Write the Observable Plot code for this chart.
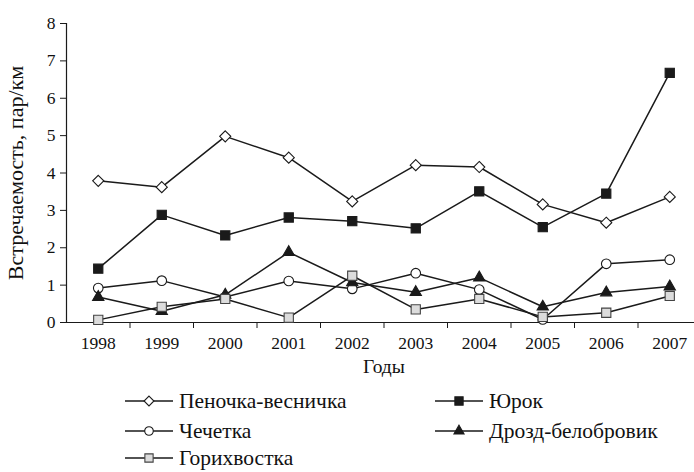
<!DOCTYPE html>
<html>
<head>
<meta charset="utf-8">
<script src="https://cdn.jsdelivr.net/npm/d3@7"></script>
<script src="https://cdn.jsdelivr.net/npm/@observablehq/plot@0.6"></script>
<style>
  html, body { margin: 0; padding: 0; background: #fff; }
  #wrap { position: relative; width: 694px; height: 472px; overflow: hidden; font-family: 'Liberation Serif', serif; }
  #wrap svg text { font-family: 'Liberation Serif', serif; }
  #legend { position: absolute; left: 0; top: 0; width: 694px; height: 472px; pointer-events: none; }
  .item { position: absolute; display: flex; align-items: center; font-size: 21.5px; line-height: 22px; color: #111; white-space: nowrap; font-family: 'Liberation Serif', serif; }
  .item svg { margin-right: 6px; }
</style>
</head>
<body>
<div id="wrap"></div>
<script>
// ---- data ----
const years = [1998, 1999, 2000, 2001, 2002, 2003, 2004, 2005, 2006, 2007];
const species = ["Пеночка-весничка", "Юрок", "Чечетка", "Дрозд-белобровик", "Горихвостка"];
const penochka   = [3.79, 3.62, 4.98, 4.41, 3.24, 4.21, 4.16, 3.16, 2.67, 3.36];
const yurok      = [1.44, 2.88, 2.33, 2.81, 2.71, 2.52, 3.51, 2.55, 3.45, 6.68];
const chechetka  = [0.92, 1.12, 0.68, 1.11, 0.90, 1.32, 0.88, 0.08, 1.57, 1.68];
const drozd      = [0.68, 0.30, 0.74, 1.88, 1.07, 0.81, 1.20, 0.42, 0.80, 0.96];
const gorihvostka= [0.07, 0.42, 0.63, 0.13, 1.25, 0.35, 0.63, 0.15, 0.26, 0.71];
const yTicks = [0, 1, 2, 3, 4, 5, 6, 7, 8];
const xLabel = "Годы";
const yLabel = "Встречаемость, пар/км";

// styles per series
const seriesValues = [penochka, yurok, chechetka, drozd, gorihvostka];
const symbols = ["diamond2", "square", "circle", "triangle", "square"];
const fills   = ["#ffffff", "#1a1a1a", "#ffffff", "#1a1a1a", "#dcdcdc"];
const strokes = ["#1a1a1a", "#1a1a1a", "#1a1a1a", "#1a1a1a", "#444444"];
const radii   = [5.0, 5.2, 4.8, 4.2, 5.2];

const table = [];
species.forEach((s, i) => years.forEach((y, j) => table.push({species: s, year: y, value: seriesValues[i][j]})));

const boundaries = years.slice(1).map(y => y - 0.5);

const marks = [
  Plot.axisY({ticks: yTicks, tickSize: 6, tickPadding: 5, label: yLabel, labelAnchor: "center", labelOffset: 59, labelArrow: "none", stroke: "#1a1a1a"}),
  Plot.axisX({ticks: boundaries, tickSize: 6, tickFormat: () => "", label: null, stroke: "#1a1a1a"}),
  Plot.axisX({ticks: years, tickSize: 0, tickPadding: 14, tickFormat: d => String(d), label: xLabel, labelAnchor: "center", labelOffset: 50, labelArrow: "none"}),
  Plot.ruleY([0], {stroke: "#1a1a1a", strokeWidth: 1.2}),
  Plot.ruleX([years[0] - 0.5], {stroke: "#1a1a1a", strokeWidth: 1.2}),
];
species.forEach((s, i) => {
  marks.push(Plot.line(table.filter(d => d.species === s), {x: "year", y: "value", stroke: "#1a1a1a", strokeWidth: 1.5}));
});
species.forEach((s, i) => {
  marks.push(Plot.dot(table.filter(d => d.species === s), {x: "year", y: "value", symbol: () => symbols[i], r: radii[i], fill: fills[i], stroke: strokes[i], strokeWidth: 1.1}));
});

const chart = Plot.plot({
  width: 694,
  height: 385,
  marginLeft: 66,
  marginRight: -7,
  marginTop: 23,
  marginBottom: 63,
  style: {fontFamily: "'Liberation Serif', serif", fontSize: "17.5px", color: "#111", background: "#fff", overflow: "visible"},
  x: {domain: [years[0] - 0.5, years[years.length - 1] + 0.5]},
  y: {domain: [0, 8]},
  symbol: {type: "identity"},
  marks
});
// axis title sizes
d3.select(chart).selectAll('g[aria-label="y-axis label"]').attr("font-size", 22);
d3.select(chart).selectAll('g[aria-label="x-axis label"]').attr("font-size", 19.5);
document.getElementById("wrap").appendChild(chart);

// ---- legend ----
const legend = document.createElement("div");
legend.id = "legend";
const legendPos = [[125, 401], [435, 401], [125, 431], [435, 431], [125, 458]];
species.forEach((s, i) => {
  const item = document.createElement("div");
  item.className = "item";
  item.style.left = legendPos[i][0] + "px";
  item.style.top = (legendPos[i][1] - 11) + "px";
  item.style.height = "22px";
  const sw = d3.create("svg").attr("width", 48).attr("height", 20);
  sw.append("line").attr("x1", 0).attr("x2", 48).attr("y1", 10).attr("y2", 10).attr("stroke", "#1a1a1a").attr("stroke-width", 1.5);
  const symMap = {diamond2: d3.symbolDiamond2, square: d3.symbolSquare, circle: d3.symbolCircle, triangle: d3.symbolTriangle};
  sw.append("path")
    .attr("d", d3.symbol(symMap[symbols[i]], Math.PI * radii[i] * radii[i] * 0.8)())
    .attr("transform", "translate(24,10)")
    .attr("fill", fills[i]).attr("stroke", strokes[i]).attr("stroke-width", 1.1);
  item.appendChild(sw.node());
  const t = document.createElement("span");
  t.textContent = s;
  item.appendChild(t);
  legend.appendChild(item);
});
document.getElementById("wrap").appendChild(legend);
</script>
</body>
</html>
